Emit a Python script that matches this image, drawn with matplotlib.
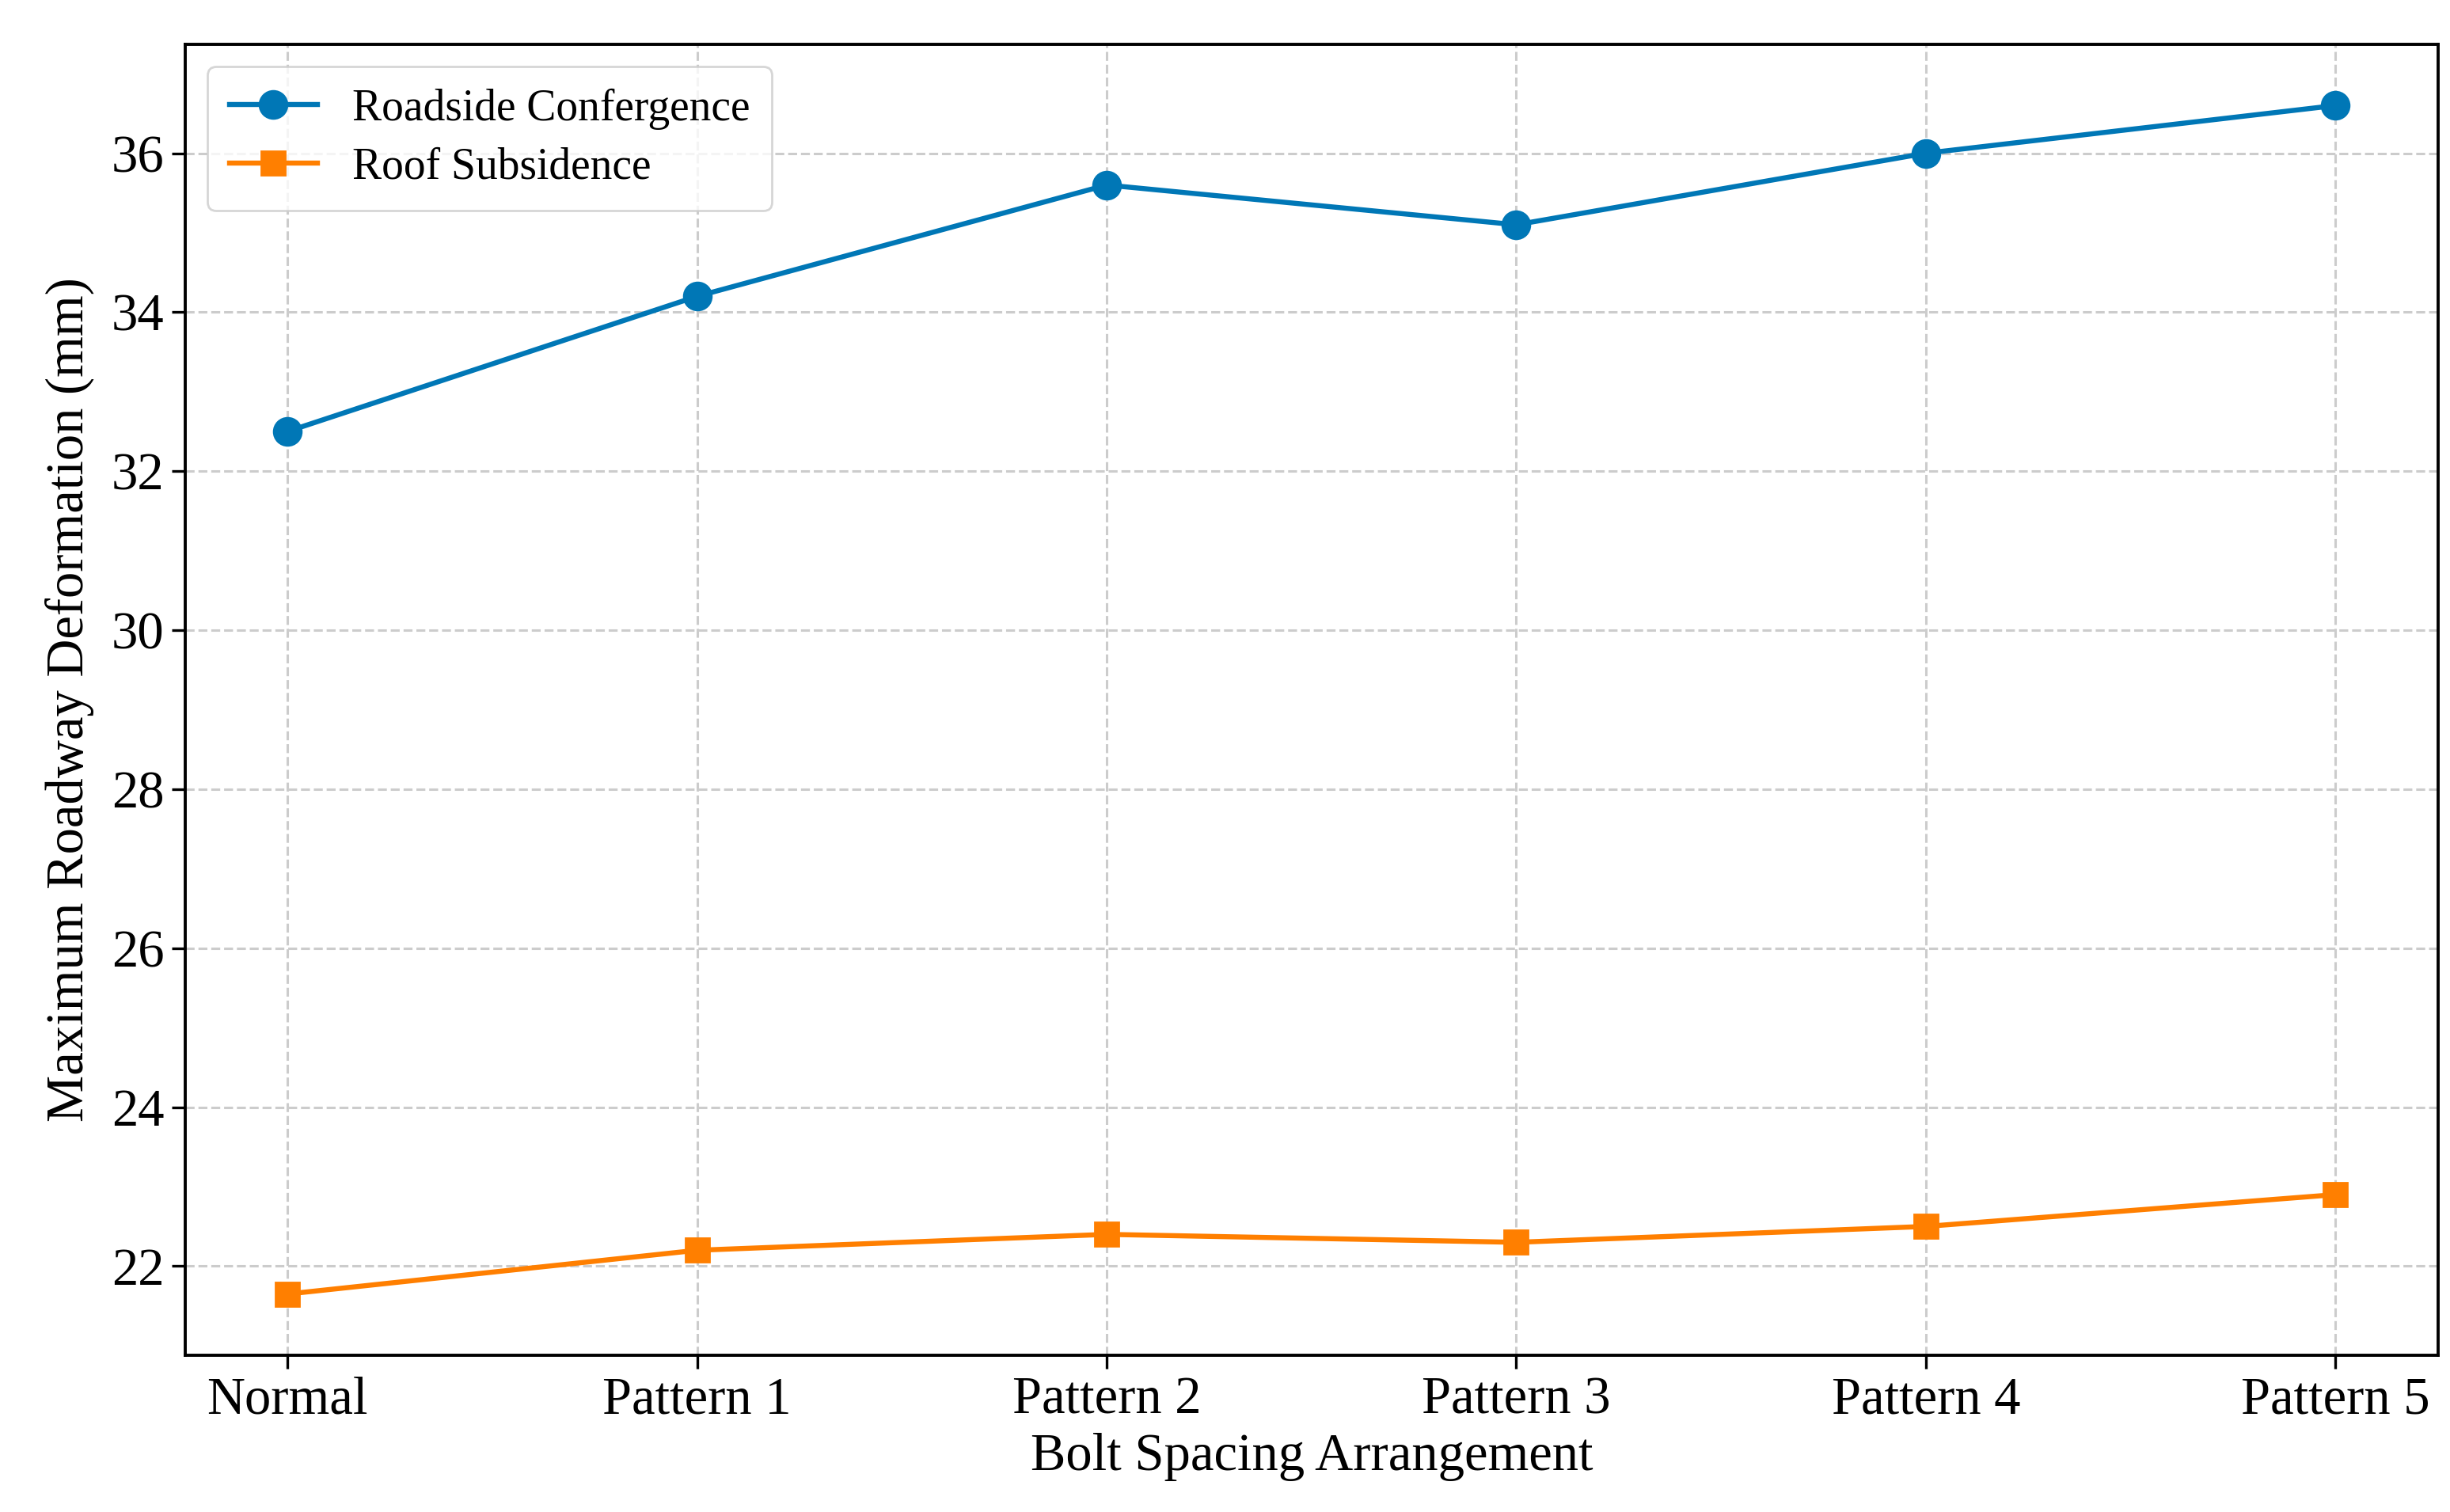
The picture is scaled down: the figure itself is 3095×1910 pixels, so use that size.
import matplotlib
matplotlib.use("Agg")
import matplotlib.pyplot as plt

# bolt spacing layouts on x, deformation values
categories = ["Normal", "Pattern 1", "Pattern 2", "Pattern 3", "Pattern 4", "Pattern 5"]
roadside = [32.5, 34.2, 35.6, 35.1, 36.0, 36.6]
roof = [21.65, 22.2, 22.4, 22.3, 22.5, 22.9]
yticks = [22, 24, 26, 28, 30, 32, 34, 36]

plt.rcParams["font.family"] = ["Liberation Serif", "DejaVu Serif"]

fig = plt.figure(figsize=(15.475, 9.55), dpi=200)
ax = fig.add_axes([0.0756, 0.1037, 0.9194, 0.867])

x = list(range(len(categories)))
ax.plot(x, roadside, "-o", color="#0077B6", lw=2.3, ms=12.5, label="Roadside Confergence")
ax.plot(x, roof, "-s", color="#FF7F00", lw=2.3, ms=11, label="Roof Subsidence")

ax.set_xticks(x)
ax.set_xticklabels(categories)
ax.set_yticks(yticks)
ax.set_xlim(-0.25, 5.25)
ax.set_ylim(20.88, 37.37)
ax.tick_params(labelsize=24, length=6, width=1.2)
ax.set_xlabel("Bolt Spacing Arrangement", fontsize=24, labelpad=4)
ax.set_ylabel("Maximum Roadway Deformation (mm)", fontsize=24, labelpad=8)
ax.grid(True, linestyle="--", color="#cccccc", lw=1.1)
for s in ax.spines.values():
    s.set_linewidth(1.4)
ax.legend(loc="upper left", fontsize=20, handlelength=2.0, borderpad=0.5,
          labelspacing=0.4)

fig.savefig("out.png", dpi=200)
